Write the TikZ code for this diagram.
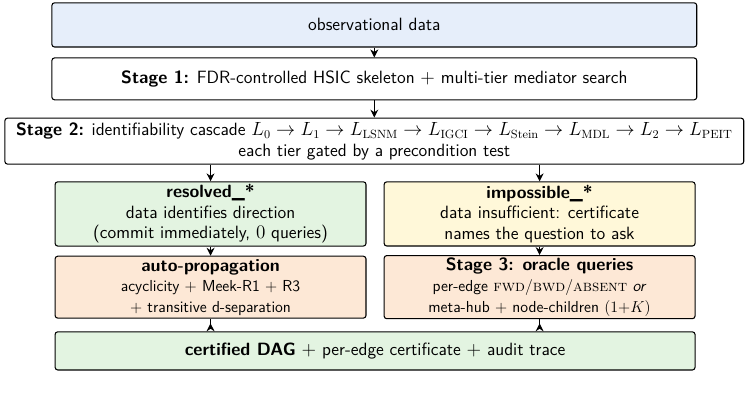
\documentclass[tikz,border=0pt]{standalone}
\usepackage{amsmath}
\usepackage{tikz}
\usetikzlibrary{arrows.meta,positioning}
\renewcommand{\familydefault}{\sfdefault}
\definecolor{blueFill}{HTML}{E6EEFA}
\definecolor{greenFill}{HTML}{E3F4E1}
\definecolor{yellowFill}{HTML}{FFF8D9}
\definecolor{orangeFill}{HTML}{FDE8D6}
\newcommand{\mainsize}{\fontsize{13.4pt}{15.5pt}\selectfont}
\newcommand{\subsize}{\fontsize{12pt}{14.5pt}\selectfont}
\tikzstyle{stagebox} = [rectangle, rounded corners=2pt, draw=black, thick, text centered, align=center, inner sep=2pt, font=\mainsize]
\tikzstyle{arrow} = [thick,-{Stealth[length=6pt,width=6pt]}]
\tikzstyle{uparrow} = [thick,-{Stealth[length=6pt,width=6pt,reversed]}]
\begin{document}
\begin{tikzpicture}[line width=0.6pt]
\useasboundingbox (0,0) rectangle (19.85,-10.65);
\node (obs) [stagebox, fill=blueFill, minimum width=17.09cm, minimum height=1.17cm] at (9.92,-0.66) {observational data};
\node (s1) [stagebox, minimum width=17.09cm, minimum height=1.11cm] at (9.92,-2.09) {\textbf{Stage 1:} FDR-controlled HSIC skeleton $+$ multi-tier mediator search};
\node (s2) [stagebox, minimum width=19.58cm, minimum height=1.22cm, inner sep=1pt] at (9.92,-3.74) {\textbf{Stage 2:} identifiability cascade $L_0 \to L_1 \to L_{\mathrm{LSNM}} \to L_{\mathrm{IGCI}} \to L_{\mathrm{Stein}} \to L_{\mathrm{MDL}} \to L_2 \to L_{\mathrm{PEIT}}$\\ each tier gated by a precondition test};
\node (res) [stagebox, fill=greenFill, minimum width=8.24cm, minimum height=1.70cm] at (5.58,-5.67) {\textbf{resolved\_*}\\ data identifies direction\\ (commit immediately, $0$ queries)};
\node (imp) [stagebox, fill=yellowFill, minimum width=8.24cm, minimum height=1.70cm] at (14.30,-5.67) {\textbf{impossible\_*}\\ data insufficient: certificate\\ names the question to ask};
\node (auto) [stagebox, fill=orangeFill, minimum width=8.24cm, minimum height=1.64cm] at (5.58,-7.61) {\textbf{auto-propagation}\\ \subsize acyclicity $+$ Meek-R1 $+$ R3\\ \subsize $+$ transitive d-separation};
\node (s3) [stagebox, fill=orangeFill, minimum width=8.24cm, minimum height=1.64cm] at (14.30,-7.61) {\textbf{Stage 3: oracle queries}\\ \subsize per-edge \textrm{\textsc{fwd}}$/$\textrm{\textsc{bwd}}$/$\textrm{\textsc{absent}} \textit{or}\\ \subsize meta-hub $+$ node-children $(1{+}K)$};
\node (dag) [stagebox, fill=greenFill, minimum width=16.96cm, minimum height=1.01cm] at (9.94,-9.30) {\textbf{certified DAG} $+$ per-edge certificate $+$ audit trace};
\draw [arrow] (obs) -- (s1);
\draw [arrow] (s1) -- (s2.north -| s1);
\draw [arrow] (s2.south -| res.north) -- (res);
\draw [arrow] (s2.south -| imp.north) -- (imp);
\draw [arrow] (res) -- (auto);
\draw [arrow] (imp) -- (s3);
\draw [uparrow] (auto) -- (dag.north -| auto);
\draw [uparrow] (s3) -- (dag.north -| s3);
\end{tikzpicture}
\end{document}
